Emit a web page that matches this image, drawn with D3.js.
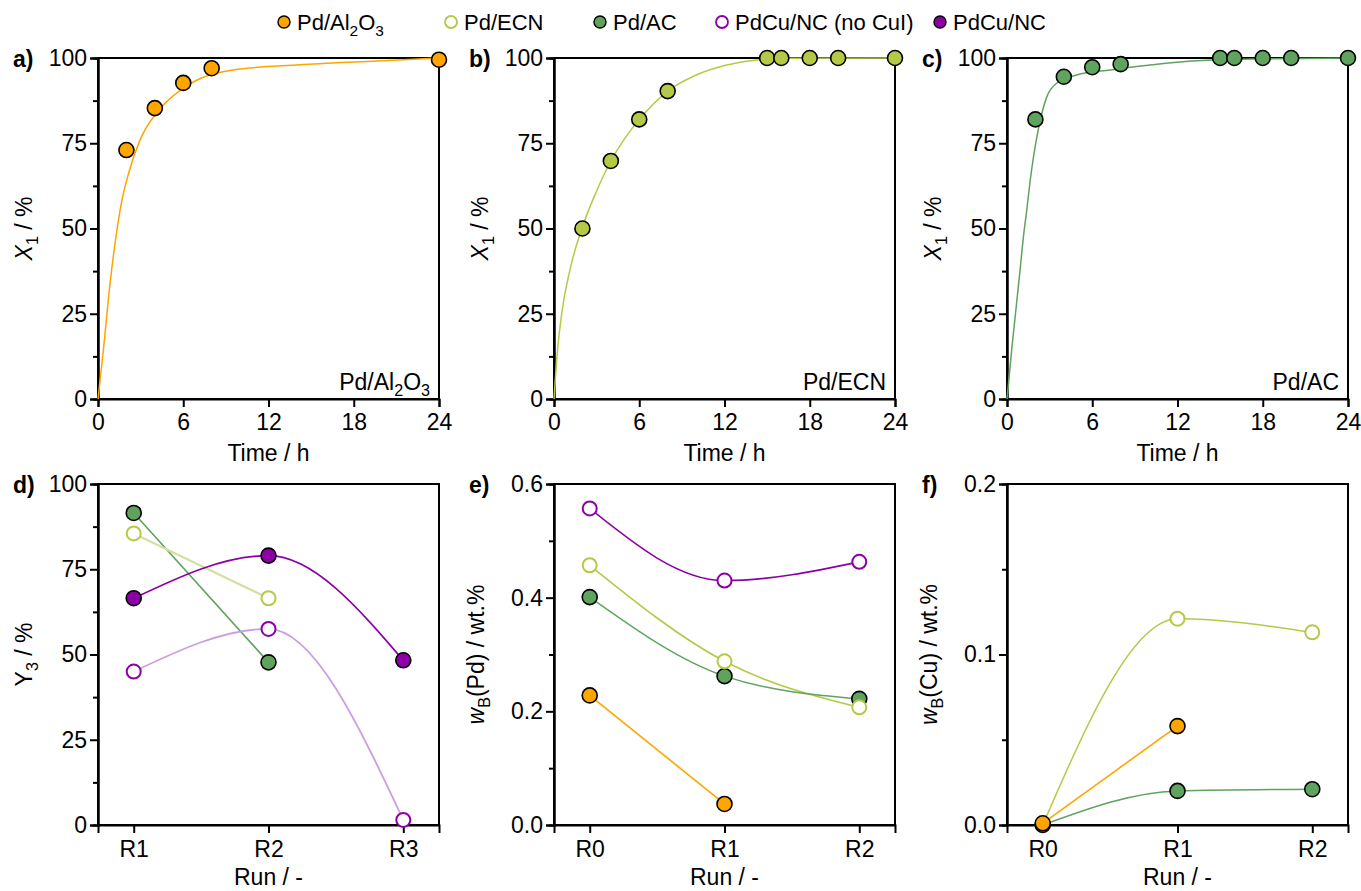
<!DOCTYPE html>
<html>
<head>
<meta charset="utf-8">
<script src="https://cdn.jsdelivr.net/npm/d3@7"></script>
<style>
  body { margin: 0; background: #fff; }
  svg { font-family: "Liberation Sans", Arial, sans-serif; }
</style>
</head>
<body>
<svg id="chart" width="1361" height="891"></svg>
<script>
// ---- data ----
var timeA = [2, 4, 6, 8, 24];
var convA = [73, 85.3, 92.7, 97, 99.5];
var fitTimeA = [0, 0.37, 0.85, 1.3, 1.67, 2.14, 2.96, 4.13, 5.5, 7.2, 9.5, 14.2, 18.9, 24];
var fitConvA = [0, 14, 34, 48.6, 58, 66, 76, 84, 89.6, 94, 96.5, 98, 99, 100];

var timeB = [2, 4, 6, 8, 15, 16, 18, 20, 24];
var convB = [50, 69.8, 82, 90.3, 100, 100, 100, 100, 100];
var fitTimeB = [0, 0.23, 0.54, 1.13, 1.96, 3, 4, 5, 6, 7, 8, 10, 12, 14, 16, 24];
var fitConvB = [0, 13.4, 25, 38, 50, 61, 69.8, 76.5, 82, 86.5, 90.3, 95, 97.8, 99.3, 99.9, 100];

var timeC = [2, 4, 6, 8, 15, 16, 18, 20, 24];
var convC = [82, 94.5, 97.3, 98.2, 100, 100, 100, 100, 100];
var fitTimeC = [0, 0.33, 0.92, 1.13, 1.39, 1.63, 2.2, 2.8, 3.5, 4.9, 7.3, 14.4, 24];
var fitConvC = [0, 14.4, 37.8, 46.6, 55.4, 64, 79, 88.6, 92.6, 95, 96.5, 99.4, 100];

var runsD = ["R1", "R2", "R3"];
var yieldAC = [91.5, 47.7];
var yieldECN = [85.5, 66.5];
var yieldPdCu = [66.5, 79, 48.3];
var yieldNoCuI = [45, 57.5, 1.5];

var runsE = ["R0", "R1", "R2"];
var pdAl = [0.228, 0.037];
var pdECN = [0.457, 0.288, 0.207];
var pdAC = [0.401, 0.262, 0.222];
var pdNoCuI = [0.557, 0.43, 0.463];

var cuAl = [0.001, 0.058];
var cuECN = [0, 0.121, 0.113];
var cuAC = [0, 0.020, 0.021];

var colOrange = "#ffa500";
var colLime = "#b5c947";
var colGreen = "#5fa35f";
var colPurple = "#8c00a6";
var colPaleLime = "#d5dfa3";
var colPalePurple = "#cc9fe0";

var svg = d3.select("#chart");
var fs = 23;

var colLeft = [98, 554, 1007];
var pw = 341;
var rowTop = [58, 484];
var ph = 341;

// sub / italic text helper: parts = [[text, style]]
function richText(sel, parts, size) {
  var s = size || fs;
  parts.forEach(function(p) {
    var t = sel.append("tspan").text(p[0]);
    if (p[1] === "i") t.attr("font-style", "italic");
    if (p[1] === "sub") t.attr("font-size", s * 0.7).attr("dy", s * 0.25);
    if (p[1] === "after") t.attr("dy", -s * 0.25);
  });
}

function makePanel(col, row, xDomain, yDomain, yMajor, yMinor, yFmt) {
  var g = svg.append("g").attr("transform", "translate(" + colLeft[col] + "," + rowTop[row] + ")");
  var x = d3.scaleLinear().domain(xDomain).range([0, pw]);
  var y = d3.scaleLinear().domain(yDomain).range([ph, 0]);

  g.append("g").attr("class", "ymin")
    .call(d3.axisLeft(y).tickValues(yMinor).tickSize(5).tickFormat(""));
  g.append("g").attr("class", "ymaj")
    .call(d3.axisLeft(y).tickValues(yMajor).tickSize(8).tickPadding(3).tickFormat(yFmt));
  g.append("rect").attr("width", pw).attr("height", ph)
    .attr("fill", "none").attr("stroke", "#000").attr("stroke-width", 2);
  return { g: g, x: x, y: y };
}

function styleAxes(g) {
  g.selectAll(".domain").attr("stroke-width", 2);
  g.selectAll(".tick line").attr("stroke-width", 2);
  g.selectAll(".tick text").attr("font-size", fs).attr("fill", "#000")
    .attr("font-family", "Liberation Sans, Arial, sans-serif");
}

function drawLine(p, xs, ys, color, curve, width) {
  var line = d3.line().x(function(d, i) { return p.x(xs[i]); })
    .y(function(d) { return p.y(d); }).curve(curve);
  p.g.append("path").datum(ys).attr("d", line)
    .attr("fill", "none").attr("stroke", color).attr("stroke-width", width || 1.6);
}

function drawDots(p, xs, ys, color, open) {
  p.g.selectAll(null).data(ys).enter().append("circle")
    .attr("cx", function(d, i) { return p.x(xs[i]); })
    .attr("cy", function(d) { return p.y(d); })
    .attr("r", open ? 7 : 7.5)
    .attr("fill", open ? "#fff" : color)
    .attr("stroke", open ? color : "#000")
    .attr("stroke-width", open ? 2 : 1.6);
}

function yTitle(p, dx, parts) {
  p.g.append("text").attr("transform", "translate(" + dx + "," + (ph / 2) + ") rotate(-90)")
    .attr("text-anchor", "middle").attr("font-size", fs).call(richText, parts);
}

function panelLabel(p, s) {
  p.g.append("text").attr("x", -85).attr("y", 9).attr("font-size", fs)
    .attr("font-weight", "bold").text(s);
}

// ---- top row: conversion vs time ----
var topSets = [
  { label: "a)", ft: fitTimeA, fc: fitConvA, t: timeA, c: convA, col: colOrange,
    tag: [["Pd/Al", ""], ["2", "sub"], ["O", "after"], ["3", "sub"]] },
  { label: "b)", ft: fitTimeB, fc: fitConvB, t: timeB, c: convB, col: colLime, tag: [["Pd/ECN", ""]] },
  { label: "c)", ft: fitTimeC, fc: fitConvC, t: timeC, c: convC, col: colGreen, tag: [["Pd/AC", ""]] }
];

topSets.forEach(function(s, k) {
  var p = makePanel(k, 0, [0, 24], [0, 100], [0, 25, 50, 75, 100], [12.5, 37.5, 62.5, 87.5], d3.format("d"));
  p.g.append("g").attr("transform", "translate(0," + ph + ")")
    .call(d3.axisBottom(p.x).tickValues([0, 6, 12, 18, 24]).tickSize(8).tickPadding(7));
  styleAxes(p.g);
  drawLine(p, s.ft, s.fc, s.col, d3.curveMonotoneX, 1.5);
  drawDots(p, s.t, s.c, s.col, false);

  p.g.append("text").attr("x", pw - 9).attr("y", ph - 9).attr("text-anchor", "end")
    .attr("font-size", fs).call(richText, s.tag);
  p.g.append("text").attr("x", pw / 2).attr("y", ph + 62).attr("text-anchor", "middle")
    .attr("font-size", fs).text("Time / h");
  yTitle(p, -66, [["X", "i"], ["1", "sub"], [" / %", "after"]]);
  panelLabel(p, s.label);
});

// ---- bottom row ----
var catDomain = [-0.265, 2.265];
function catAxis(p, cats) {
  p.g.append("g").attr("transform", "translate(0," + ph + ")")
    .call(d3.axisBottom(p.x).tickValues([0, 1, 2]).tickSize(8).tickPadding(8)
      .tickFormat(function(d) { return cats[d]; }));
  styleAxes(p.g);
  p.g.append("text").attr("x", pw / 2).attr("y", ph + 60).attr("text-anchor", "middle")
    .attr("font-size", fs).text("Run / -");
}
var idx = [0, 1, 2];
var smooth = d3.curveMonotoneX;

// d) yield
var pd = makePanel(0, 1, catDomain, [0, 100], [0, 25, 50, 75, 100], [12.5, 37.5, 62.5, 87.5], d3.format("d"));
catAxis(pd, runsD);
drawLine(pd, idx, yieldAC, colGreen, d3.curveLinear, 1.6);
drawLine(pd, idx, yieldECN, colPaleLime, d3.curveLinear, 2.2);
drawLine(pd, idx, yieldPdCu, colPurple, smooth, 1.6);
drawLine(pd, idx, yieldNoCuI, colPalePurple, smooth, 1.8);
drawDots(pd, idx, yieldAC, colGreen, false);
drawDots(pd, idx, yieldECN, colLime, true);
drawDots(pd, idx, yieldPdCu, colPurple, false);
drawDots(pd, idx, yieldNoCuI, colPurple, true);
yTitle(pd, -66, [["Y", ""], ["3", "sub"], [" / %", "after"]]);
panelLabel(pd, "d)");

// e) Pd content
var pe = makePanel(1, 1, catDomain, [0, 0.6], [0, 0.2, 0.4, 0.6], [0.1, 0.3, 0.5], d3.format(".1f"));
catAxis(pe, runsE);
drawLine(pe, idx, pdNoCuI, colPurple, smooth, 1.6);
drawLine(pe, idx, pdECN, colLime, smooth, 1.6);
drawLine(pe, idx, pdAC, colGreen, smooth, 1.4);
drawLine(pe, idx, pdAl, colOrange, d3.curveLinear, 1.6);
drawDots(pe, idx, pdNoCuI, colPurple, true);
drawDots(pe, idx, pdAC, colGreen, false);
drawDots(pe, idx, pdECN, colLime, true);
drawDots(pe, idx, pdAl, colOrange, false);
yTitle(pe, -70, [["w", "i"], ["B", "sub"], ["(Pd) / wt.%", "after"]]);
panelLabel(pe, "e)");

// f) Cu content
var pf = makePanel(2, 1, catDomain, [0, 0.2], [0, 0.1, 0.2], [0.05, 0.15], d3.format(".1f"));
catAxis(pf, runsE);
drawLine(pf, idx, cuECN, colLime, smooth, 1.5);
drawLine(pf, idx, cuAC, colGreen, smooth, 1.5);
drawLine(pf, idx, cuAl, colOrange, d3.curveLinear, 1.6);
drawDots(pf, idx, cuECN, colLime, true);
drawDots(pf, idx, cuAC, colGreen, false);
drawDots(pf, idx, cuAl, colOrange, false);
yTitle(pf, -70, [["w", "i"], ["B", "sub"], ["(Cu) / wt.%", "after"]]);
panelLabel(pf, "f)");

// ---- legend ----
var legendNames = ["Pd/Al2O3", "Pd/ECN", "Pd/AC", "PdCu/NC (no CuI)", "PdCu/NC"];
var legendColors = [colOrange, colLime, colGreen, colPurple, colPurple];
var legendOpen = [false, true, false, true, false];
var legendX = [284, 451, 600, 722, 940];
var lfs = 22;
var lg = svg.append("g").attr("transform", "translate(0,22)");
legendNames.forEach(function(n, i) {
  lg.append("circle").attr("cx", legendX[i]).attr("cy", 0).attr("r", 6)
    .attr("fill", legendOpen[i] ? "#fff" : legendColors[i])
    .attr("stroke", legendOpen[i] ? legendColors[i] : "#000")
    .attr("stroke-width", legendOpen[i] ? 1.8 : 1.4);
  var t = lg.append("text").attr("x", legendX[i] + 13).attr("y", 8).attr("font-size", lfs);
  if (i === 0) richText(t, [["Pd/Al", ""], ["2", "sub"], ["O", "after"], ["3", "sub"]], lfs);
  else t.text(n);
});
</script>
</body>
</html>
